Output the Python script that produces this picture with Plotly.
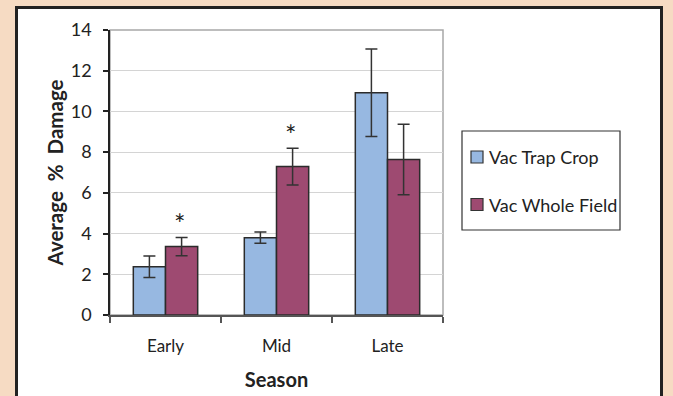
import plotly.graph_objects as go

seasons = ["Early", "Mid", "Late"]
series_names = ["Vac Trap Crop", "Vac Whole Field"]
trap_crop = [2.37, 3.80, 10.92]
trap_crop_err = [0.53, 0.28, 2.15]
whole_field = [3.36, 7.29, 7.64]
whole_field_err = [0.45, 0.90, 1.73]
significant = [True, True, False]
y_ticks = [0, 2, 4, 6, 8, 10, 12, 14]

W, H = 673, 396
L, R, T, B = 110, 230, 30, 81
pw, ph = W - L - R, H - T - B

def px_x(p):
    return (p - L) / pw

def px_y(p):
    return (H - B - p) / ph

font = "Lato, 'Open Sans', sans-serif"
blue = "#97B8E1"
purple = "#9E4A71"
colors = [blue, purple]
edge = "#2b2b2b"

fig = go.Figure()
for name, vals, errs, col in zip(series_names, [trap_crop, whole_field],
                                 [trap_crop_err, whole_field_err], colors):
    fig.add_trace(go.Bar(
        name=name, x=seasons, y=vals,
        marker=dict(color=col, line=dict(color=edge, width=1.5)),
        error_y=dict(type="data", array=errs, color="#333333", thickness=1.5, width=6),
        showlegend=False,
    ))

bargap = 0.42
bar_w = (1 - bargap) / 2
for i, sig in enumerate(significant):
    if sig:
        fig.add_annotation(
            x=i + bar_w / 2 - 0.015, y=whole_field[i] + whole_field_err[i], xref="x", yref="y",
            text="*", showarrow=False, yanchor="bottom", yshift=-5,
            font=dict(family=font, size=27, color="#222222"),
        )

# inner white panel with dark border
fig.add_shape(type="rect", xref="paper", yref="paper",
              x0=px_x(16.5), x1=px_x(661.5), y0=px_y(410), y1=px_y(7.5),
              fillcolor="white", line=dict(color="#222222", width=3), layer="below")
# plot frame (gray)
fig.add_shape(type="rect", xref="paper", yref="paper",
              x0=0, x1=1, y0=0, y1=1,
              fillcolor="rgba(0,0,0,0)", line=dict(color="#A8A8A8", width=1.5), layer="below")

# legend box drawn by hand
fig.add_shape(type="rect", xref="paper", yref="paper",
              x0=px_x(462), x1=px_x(620), y0=px_y(230), y1=px_y(131),
              fillcolor="white", line=dict(color="#333333", width=1.2))
legend_rows = [157, 204.5]
for name, col, cy in zip(series_names, colors, legend_rows):
    fig.add_shape(type="rect", xref="paper", yref="paper",
                  x0=px_x(471), x1=px_x(483), y0=px_y(cy + 6), y1=px_y(cy - 6),
                  fillcolor=col, line=dict(color="#333333", width=1.2))
    fig.add_annotation(x=px_x(487), y=px_y(cy), xref="paper", yref="paper",
                       text=name, showarrow=False, xanchor="left", yanchor="middle",
                       font=dict(family=font, size=18, color="#222222"))

fig.update_layout(
    width=W, height=H,
    margin=dict(l=L, r=R, t=T, b=B, pad=0, autoexpand=False),
    paper_bgcolor="#F6DBC3",
    plot_bgcolor="rgba(0,0,0,0)",
    barmode="group", bargap=bargap, bargroupgap=0,
    font=dict(family=font, size=17, color="#222222"),
    showlegend=False,
    xaxis=dict(
        type="category", showline=True, linecolor="#555555", linewidth=1.5,
        ticks="outside", tickson="boundaries", ticklen=6, tickcolor="#555555", tickwidth=1.5,
        tickfont=dict(size=17), showgrid=False, ticklabelstandoff=15,
        title=dict(text="<b>Season</b>", font=dict(size=20), standoff=18),
    ),
    yaxis=dict(
        range=[0, 14], tickvals=y_ticks, showline=True, linecolor="#222222", linewidth=1.5,
        ticks="outside", ticklen=5, tickcolor="#222222", tickwidth=1.5,
        showgrid=True, gridcolor="#D4D4D4", gridwidth=1.2, zeroline=False,
        tickfont=dict(size=18), ticklabelstandoff=8,
        title=dict(text="<b>Average&nbsp; %&nbsp; Damage</b>", font=dict(size=20.5), standoff=2),
    ),
)

fig.write_html("out.html", config={"displayModeBar": False},
               post_script="document.body.style.margin='0';")
